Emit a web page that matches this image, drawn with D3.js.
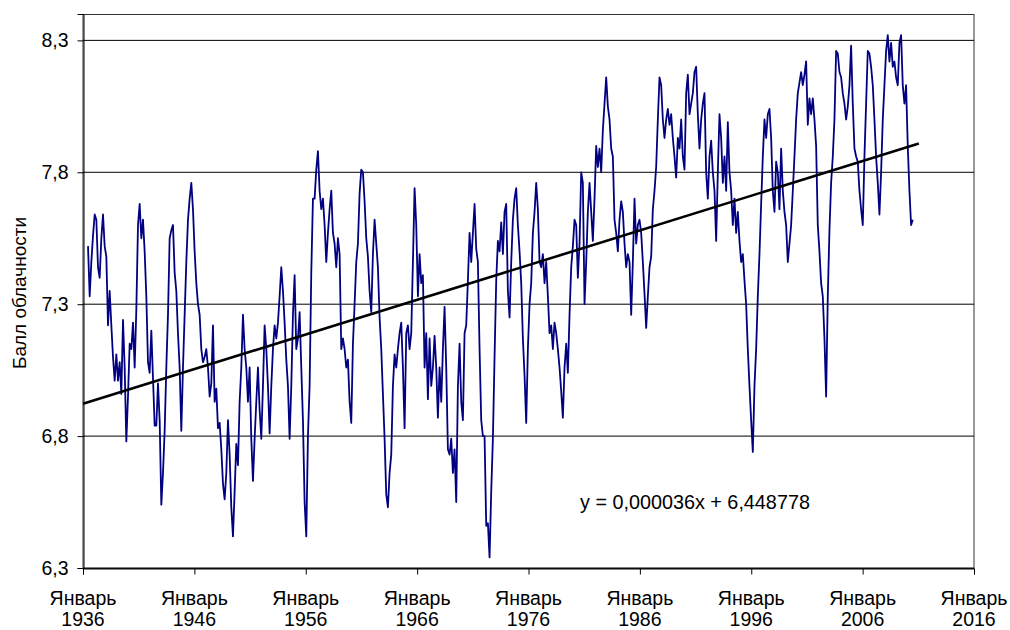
<!DOCTYPE html>
<html><head><meta charset="utf-8">
<script src="https://cdn.jsdelivr.net/npm/d3@7"></script>
<style>
body{margin:0;background:#fff;}
text{font-family:"Liberation Sans",Arial,sans-serif;}
</style></head>
<body><svg id="c" width="1010" height="630"></svg>
<script>
// ---- data ----
const startYear = 1936.45;      // first plotted sample
const stepYears = 0.1496;       // spacing between samples

const cloud1936 = [7.52,7.33,7.46,7.56,7.64,7.62,7.44,7.40,7.55,7.64,
7.52,7.48,7.22,7.35,7.22,7.10,7.01,7.11,7.01,7.08,
6.96,7.24,7.06,6.78,6.95,7.15,7.13,7.23,7.06,7.28,
7.60,7.68,7.55,7.62,7.50,7.33,7.08,7.04,7.20,7.02,
6.84,6.84,7.00,6.86,6.54,6.66,6.82,7.06,7.26,7.55,
7.58,7.60,7.42,7.35,7.19,7.06,6.82,7.06,7.26,7.46,
7.62,7.70,7.76,7.66,7.50,7.38,7.30,7.26,7.13,7.08,
7.10,7.13];
const cloud1947 = [7.06,6.95,7.00,7.22,6.93,6.98,6.83,6.85,6.75,6.62,
6.56,6.66,6.86,6.73,6.53,6.42,6.59,6.77,6.69,6.93,
7.06,7.26,7.13,7.06,6.93,7.06,6.79,6.63,6.79,6.93,
7.06,6.90,6.79,6.99,7.22,7.13,6.99,6.81,6.99,7.13,
7.22,7.17,7.23,7.33,7.44,7.35,7.23,7.09,6.99,6.79,
6.99,7.26,7.41,7.13,7.17,7.27,7.06,6.86,6.55,6.42,
6.80,6.99,7.42,7.70,7.70,7.81,7.88,7.73,7.66,7.70,
7.60,7.46];
const cloud1958 = [7.57,7.66,7.73,7.57,7.53,7.44,7.55,7.49,7.13,7.17,
7.13,7.06,7.09,6.93,6.85,7.15,7.30,7.46,7.53,7.72,
7.81,7.80,7.69,7.55,7.48,7.35,7.27,7.49,7.62,7.53,
7.44,7.25,7.13,6.96,6.79,6.58,6.53,6.66,6.73,6.99,
7.11,7.06,7.13,7.19,7.23,7.06,6.83,7.19,7.22,7.13,
7.19,7.46,7.74,7.60,7.33,7.49,7.38,7.41,7.06,7.19,
6.94,7.17,6.99,7.06,7.18,7.06,6.87,7.06,6.93,7.13,
7.29,7.06];
const cloud1968 = [6.75,6.73,6.79,6.66,6.75,6.55,6.99,7.15,6.93,6.86,
7.19,7.22,7.39,7.57,7.46,7.57,7.68,7.51,7.46,7.13,
6.86,6.80,6.80,6.46,6.47,6.34,6.59,6.79,7.10,7.39,
7.54,7.50,7.61,7.49,7.65,7.68,7.35,7.25,7.46,7.62,
7.70,7.74,7.60,7.50,7.38,7.17,7.03,6.85,7.13,7.30,
7.38,7.57,7.65,7.76,7.66,7.46,7.44,7.49,7.38,7.46,
7.33,7.19,7.22,7.13,7.23,7.19,7.13,7.06,6.97,6.87,
7.06,7.15];
const cloud1979 = [7.04,7.26,7.44,7.52,7.62,7.60,7.40,7.53,7.80,7.76,
7.30,7.46,7.65,7.76,7.65,7.54,7.70,7.90,7.82,7.89,
7.80,7.96,8.06,8.16,8.05,8.00,7.89,7.86,7.62,7.57,
7.50,7.62,7.69,7.65,7.53,7.44,7.49,7.46,7.26,7.46,
7.70,7.53,7.60,7.62,7.57,7.46,7.34,7.21,7.33,7.44,
7.48,7.66,7.73,7.82,8.00,8.16,8.13,8.00,7.93,8.00,
8.04,7.98,8.02,7.93,7.86,7.78,7.93,7.89,8.00,7.86,
7.81,8.10];
const cloud1990 = [8.17,8.02,8.06,8.10,8.18,8.20,8.02,7.89,8.00,8.06,
8.10,7.80,7.70,7.86,7.92,7.80,7.73,7.54,7.80,8.02,
7.93,7.76,7.86,7.73,7.99,7.80,7.73,7.60,7.70,7.57,
7.65,7.54,7.46,7.49,7.39,7.30,7.13,6.99,6.86,6.74,
6.99,7.13,7.33,7.49,7.68,7.86,8.00,7.93,8.02,8.04,
7.93,7.73,7.65,7.84,7.80,7.66,7.89,7.73,7.65,7.60,
7.46,7.53,7.60,7.73,7.86,8.00,8.10,8.14,8.18,8.13,
8.17,8.22];
const cloud2001 = [7.98,8.08,8.02,8.08,8.00,7.90,7.60,7.50,7.38,7.33,
7.17,6.95,7.33,7.58,7.76,7.86,8.00,8.26,8.25,8.18,
8.16,8.10,8.06,8.00,8.05,8.13,8.28,8.06,7.89,7.86,
7.84,7.73,7.66,7.60,7.86,8.06,8.26,8.25,8.20,8.13,
8.00,7.86,7.76,7.64,7.80,8.00,8.13,8.26,8.32,8.22,
8.29,8.20,8.22,8.16,8.13,8.29,8.32,8.13,8.06,8.13,
7.90,7.73,7.60,7.62];

const yTicks = [6.3, 6.8, 7.3, 7.8, 8.3];
const xTickYears = [1936, 1946, 1956, 1966, 1976, 1986, 1996, 2006, 2016];
const xTickMonth = "Январь";
const yTitle = "Балл облачности";
// trend line as printed on the chart (x = Excel date serial)
const trendSlope = 0.000036, trendIntercept = 6.448778;
const trendYears = [1936.0, 2011.05];

// ---- build ----
const values = [].concat(cloud1936, cloud1947, cloud1958, cloud1968, cloud1979, cloud1990, cloud2001);
const series = values.map((v, i) => ({year: startYear + i * stepYears, v}));

function excelSerial(yr) {
  const y0 = Math.floor(yr);
  const ms = Date.UTC(y0, 0, 1) + (yr - y0) * 365.25 * 864e5;
  return (ms - Date.UTC(1899, 11, 30)) / 864e5;
}
const trend = trendYears.map(yr => ({year: yr, v: trendSlope * excelSerial(yr) + trendIntercept}));

const L = 83, T = 14, R = 974, B = 568;
const FS = 19.5;
const svg = d3.select("#c");
const x = d3.scaleLinear().domain([1936, 2016]).range([L, R]);
const y = d3.scaleLinear().domain([6.3, 8.4]).range([B, T]);

// plot frame
svg.append("rect").attr("x", L).attr("y", T + 0.5).attr("width", R - L).attr("height", B - T)
  .attr("fill", "none").attr("stroke", "#333").attr("stroke-width", 1);

// gridlines
svg.append("g").selectAll("line").data(yTicks).join("line")
  .attr("x1", L).attr("x2", R).attr("y1", d => y(d)).attr("y2", d => y(d))
  .attr("stroke", "#000").attr("stroke-width", 1);

// y axis
const fmt = d => d.toFixed(1).replace(".", ",");
const gy = svg.append("g").attr("transform", `translate(${L + 0.5},0)`)
  .call(d3.axisLeft(y).tickValues(yTicks).tickSize(6).tickPadding(9).tickFormat(fmt));
gy.selectAll("text").attr("font-size", FS).attr("fill", "#000")
  .attr("font-family", "'Liberation Sans', Arial, sans-serif");
gy.selectAll("line,path").attr("stroke", "#000");

// x axis
const gx = svg.append("g").attr("transform", `translate(0,${B + 0.5})`)
  .call(d3.axisBottom(x).tickValues(xTickYears).tickSize(6).tickFormat(""));
gx.selectAll("line,path").attr("stroke", "#000");
const lab = svg.append("g").selectAll("text").data(xTickYears).join("text")
  .attr("text-anchor", "middle").attr("font-size", FS).attr("fill", "#000");
lab.append("tspan").attr("x", d => x(d)).attr("y", 605).text(xTickMonth);
lab.append("tspan").attr("x", d => x(d)).attr("y", 626).text(d => d);

// y title
svg.append("text").attr("transform", "translate(25.5,293) rotate(-90)")
  .attr("text-anchor", "middle").attr("font-size", 19).attr("fill", "#000").text(yTitle);

// data line
svg.append("path").datum(series)
  .attr("fill", "none").attr("stroke", "#000080").attr("stroke-width", 1.8)
  .attr("stroke-linejoin", "round")
  .attr("d", d3.line().x(d => x(d.year)).y(d => y(d.v)));

// trend line
svg.append("path").datum(trend)
  .attr("fill", "none").attr("stroke", "#000").attr("stroke-width", 2.6)
  .attr("d", d3.line().x(d => x(d.year)).y(d => y(d.v)));

// equation
const eq = "y = " + String(trendSlope.toFixed(6)).replace(".", ",") + "x + " + String(trendIntercept.toFixed(6)).replace(".", ",");
svg.append("text").attr("x", 580).attr("y", 509).attr("font-size", FS + 0.3).attr("fill", "#000").text(eq);
</script></body></html>
